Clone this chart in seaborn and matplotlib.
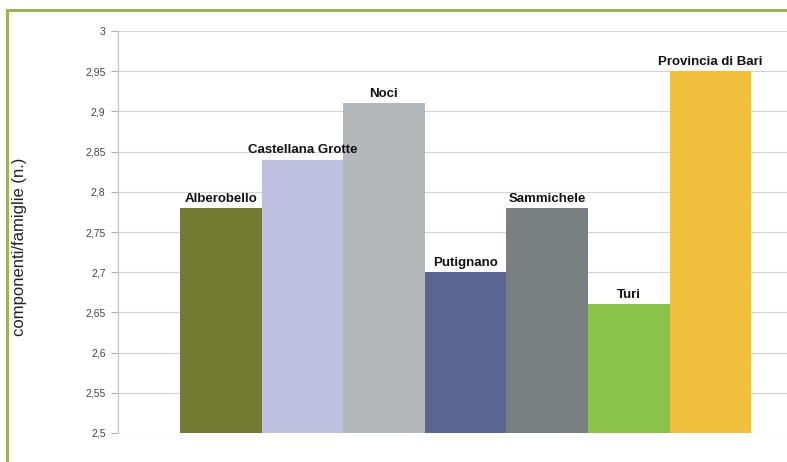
import matplotlib
matplotlib.use("Agg")
import matplotlib.pyplot as plt
import seaborn as sns
import pandas as pd
from matplotlib.patches import Rectangle
from matplotlib.ticker import FuncFormatter

sns.set_style("white")
plt.rcParams["font.family"] = ["Liberation Sans", "DejaVu Sans"]

# dati
comuni = ["Alberobello", "Castellana Grotte", "Noci", "Putignano",
          "Sammichele", "Turi", "Provincia di Bari"]
componenti = [2.78, 2.84, 2.91, 2.70, 2.78, 2.66, 2.95]
colori = ["#737a32", "#bfc0e0", "#b4b8ba", "#5a6592",
          "#7a7f82", "#8bc34a", "#f0c03c"]
y_ticks = [2.5, 2.55, 2.6, 2.65, 2.7, 2.75, 2.8, 2.85, 2.9, 2.95, 3.0]

df = pd.DataFrame({"comune": comuni, "valore": componenti})

W, H = 787, 462
fig = plt.figure(figsize=(W / 100, H / 100), dpi=100)
ax = fig.add_axes([118 / W, 1 - 433 / H, 1 - 118 / W, (433 - 31) / H])

sns.barplot(data=df, x="comune", y="valore", hue="comune", palette=colori,
            width=1.0, saturation=1, linewidth=0, legend=False, ax=ax, zorder=2)

ax.set_ylim(2.5, 3.0)
ax.set_xlim(-1.26, 6.94)
ax.set_yticks(y_ticks)
ax.yaxis.set_major_formatter(FuncFormatter(lambda v, p: f"{v:g}".replace(".", ",")))
ax.tick_params(axis="y", length=5, width=0.8, color="#b0b0b0",
               labelsize=7.5, labelcolor="#444444", pad=4, left=True)
ax.tick_params(axis="x", bottom=False, labelbottom=False)
ax.grid(axis="y", color="#d4d4d4", linewidth=0.9, zorder=0)
ax.set_axisbelow(True)
for s in ["top", "right", "bottom"]:
    ax.spines[s].set_visible(False)
ax.spines["left"].set_color("#c8c8c8")
ax.spines["left"].set_linewidth(0.9)
ax.set_xlabel("")
ax.set_ylabel("")

# etichette sopra le barre
for i, (nome, v) in enumerate(zip(comuni, componenti)):
    ax.text(i, v + 0.004, nome, ha="center", va="bottom",
            fontsize=9.5, fontweight="bold", color="#111111")

fig.text(20 / W, 1 - 247 / H, "componenti/famiglie (n.)", rotation=90,
         ha="center", va="center", fontsize=12, color="#222222")

# cornice verde
fig.patches.append(Rectangle((7 / W, -0.1), 1.2, 1 - 10 / H + 0.1,
                             transform=fig.transFigure, fill=False,
                             edgecolor="#9cb356", linewidth=2.2))

fig.savefig("out.png", dpi=100)
